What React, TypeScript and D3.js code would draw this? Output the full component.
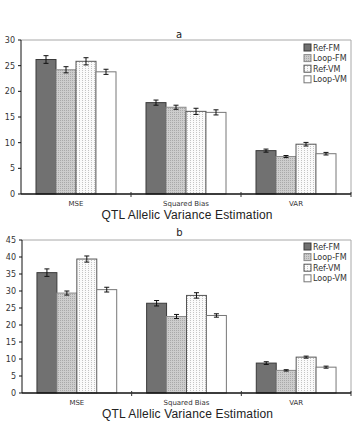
import React from "react";
import * as d3 from "d3";

const categories = ["MSE", "Squared Bias", "VAR"];
const seriesNames = ["Ref-FM", "Loop-FM", "Ref-VM", "Loop-VM"];

// Panel a: means and error half-widths per category, one array per series
const aRefFM = [26.2, 17.8, 8.45];
const aLoopFM = [24.2, 16.9, 7.3];
const aRefVM = [25.85, 16.1, 9.7];
const aLoopVM = [23.8, 15.9, 7.85];
const aRefFMErr = [0.75, 0.5, 0.3];
const aLoopFMErr = [0.6, 0.4, 0.2];
const aRefVMErr = [0.7, 0.6, 0.35];
const aLoopVMErr = [0.5, 0.5, 0.25];
const aTicks = [0, 5, 10, 15, 20, 25, 30];

// Panel b
const bRefFM = [35.4, 26.4, 8.8];
const bLoopFM = [29.4, 22.5, 6.65];
const bRefVM = [39.4, 28.7, 10.55];
const bLoopVM = [30.4, 22.8, 7.6];
const bRefFMErr = [1.1, 0.8, 0.4];
const bLoopFMErr = [0.6, 0.6, 0.2];
const bRefVMErr = [0.9, 0.8, 0.3];
const bLoopVMErr = [0.7, 0.5, 0.3];
const bTicks = [0, 5, 10, 15, 20, 25, 30, 35, 40, 45];

const axisTitle = "QTL Allelic Variance Estimation";

const fills = ["#717171", "url(#pat-loopfm)", "url(#pat-refvm)", "#ffffff"];
const strokes = ["#3a3a3a", "#8a8a8a", "#555555", "#777777"];

type PanelProps = {
  label: string;
  values: number[][];
  errors: number[][];
  ticks: number[];
  yMax: number;
  x0: number;
  x1: number;
  yTop: number;
  yBottom: number;
  labelY: number;
  groupLabelY: number;
  titleY: number;
  legendY: number;
};

function Panel(p: PanelProps) {
  const x = d3.scaleBand<string>().domain(categories).range([p.x0, p.x1]).paddingInner(0).paddingOuter(0);
  const inner = d3
    .scaleBand<string>()
    .domain(seriesNames)
    .range([0, x.bandwidth()])
    .paddingOuter(0.75)
    .paddingInner(0);
  const y = d3.scaleLinear().domain([0, p.yMax]).range([p.yBottom, p.yTop]);
  const bw = inner.bandwidth();
  const mid = (p.x0 + p.x1) / 2;

  return (
    <g>
      <text x={mid - 7} y={p.labelY} fontFamily="DejaVu Sans, sans-serif" fontSize={10} fill="#222" textAnchor="middle">
        {p.label}
      </text>
      {/* frame */}
      <line x1={p.x0} x2={p.x1} y1={p.yTop} y2={p.yTop} stroke="#a8a8a8" strokeWidth={1} />
      <line x1={p.x1} x2={p.x1} y1={p.yTop} y2={p.yBottom} stroke="#a8a8a8" strokeWidth={1} />
      {/* bars */}
      {categories.map((c, ci) =>
        seriesNames.map((s, si) => {
          const v = p.values[si][ci];
          const e = p.errors[si][ci];
          const bx = (x(c) as number) + (inner(s) as number);
          const top = y(v);
          const cx = bx + bw / 2;
          return (
            <g key={c + s}>
              <rect
                x={bx}
                y={top}
                width={bw}
                height={p.yBottom - top}
                fill={fills[si]}
                stroke={strokes[si]}
                strokeWidth={1}
              />
              <line x1={cx} x2={cx} y1={y(v + e)} y2={y(v - e)} stroke="#111" strokeWidth={1} />
              <line x1={cx - 2.5} x2={cx + 2.5} y1={y(v + e)} y2={y(v + e)} stroke="#111" strokeWidth={1} />
              <line x1={cx - 2.5} x2={cx + 2.5} y1={y(v - e)} y2={y(v - e)} stroke="#111" strokeWidth={1} />
            </g>
          );
        })
      )}
      {/* y axis */}
      <line x1={p.x0} x2={p.x0} y1={p.yTop} y2={p.yBottom} stroke="#111" strokeWidth={1} />
      {p.ticks.map((t) => (
        <g key={t}>
          <line x1={p.x0 - 3} x2={p.x0} y1={y(t)} y2={y(t)} stroke="#111" strokeWidth={1} />
          <text
            x={p.x0 - 6}
            y={y(t) + 3}
            fontFamily="DejaVu Sans, sans-serif"
            fontSize={8}
            fill="#333"
            textAnchor="end"
          >
            {t}
          </text>
        </g>
      ))}
      {/* x axis */}
      <line x1={p.x0} x2={p.x1} y1={p.yBottom} y2={p.yBottom} stroke="#111" strokeWidth={1.5} />
      {categories.slice(1).map((c) => (
        <line
          key={c}
          x1={x(c) as number}
          x2={x(c) as number}
          y1={p.yBottom - 2}
          y2={p.yBottom + 3}
          stroke="#333"
          strokeWidth={1}
        />
      ))}
      <line x1={p.x1} x2={p.x1} y1={p.yBottom - 2} y2={p.yBottom + 3} stroke="#333" strokeWidth={1} />
      {categories.map((c) => (
        <text
          key={c}
          x={(x(c) as number) + x.bandwidth() / 2}
          y={p.groupLabelY}
          fontFamily="DejaVu Sans, sans-serif"
          fontSize={7}
          fill="#333"
          textAnchor="middle"
        >
          {c}
        </text>
      ))}
      <text
        x={mid + 1}
        y={p.titleY}
        fontFamily="Liberation Sans, Arial, sans-serif"
        fontSize={12}
        fill="#222"
        textAnchor="middle"
        textLength={171}
        lengthAdjust="spacing"
      >
        {axisTitle}
      </text>
      {/* legend */}
      {seriesNames.map((s, si) => (
        <g key={s}>
          <rect
            x={304}
            y={p.legendY + si * 10.6 - 3.5}
            width={7}
            height={7}
            fill={fills[si]}
            stroke={strokes[si]}
            strokeWidth={1}
          />
          <text
            x={313}
            y={p.legendY + si * 10.6 + 3}
            fontFamily="DejaVu Sans, sans-serif"
            fontSize={8}
            fill="#333"
          >
            {s}
          </text>
        </g>
      ))}
    </g>
  );
}

export default function App() {
  return (
    <svg
      width={357}
      height={423}
      style={{ position: "absolute", left: 0, top: 0, background: "#fff" }}
    >
      <defs>
        <pattern id="pat-loopfm" width={2} height={2} patternUnits="userSpaceOnUse">
          <rect width={2} height={2} fill="#cdcdcd" />
          <rect width={1} height={1} fill="#a9a9a9" />
        </pattern>
        <pattern id="pat-refvm" width={3} height={2} patternUnits="userSpaceOnUse">
          <rect width={3} height={2} fill="#fafafa" />
          <rect x={1} width={1} height={1} fill="#c4c4c4" />
        </pattern>
      </defs>
      <Panel
        label="a"
        values={[aRefFM, aLoopFM, aRefVM, aLoopVM]}
        errors={[aRefFMErr, aLoopFMErr, aRefVMErr, aLoopVMErr]}
        ticks={aTicks}
        yMax={30}
        x0={21}
        x1={351}
        yTop={40}
        yBottom={194}
        labelY={38}
        groupLabelY={205.5}
        titleY={218.5}
        legendY={47.5}
      />
      <Panel
        label="b"
        values={[bRefFM, bLoopFM, bRefVM, bLoopVM]}
        errors={[bRefFMErr, bLoopFMErr, bRefVMErr, bLoopVMErr]}
        ticks={bTicks}
        yMax={45}
        x0={22}
        x1={351}
        yTop={240}
        yBottom={393}
        labelY={235.5}
        groupLabelY={404.5}
        titleY={417.5}
        legendY={246.5}
      />
    </svg>
  );
}
